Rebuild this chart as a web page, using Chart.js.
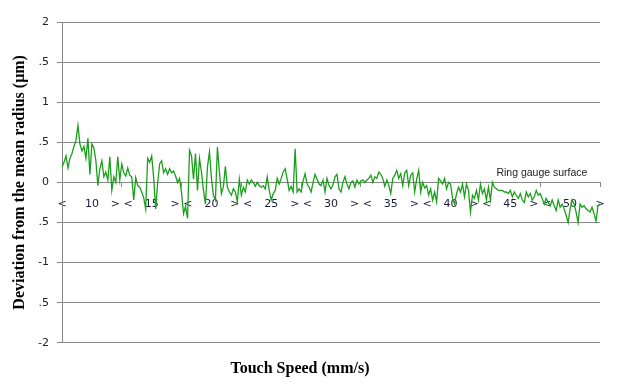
<!DOCTYPE html>
<html>
<head>
<meta charset="utf-8">
<script src="https://cdn.jsdelivr.net/npm/chart.js@4.4.1/dist/chart.umd.min.js"></script>
<style>
  html, body { margin: 0; padding: 0; background: #fff; }
</style>
</head>
<body>
<canvas id="chart" width="628" height="384"></canvas>
<script>
// speed groups shown along the zero line
const speedLabels = ['10', '15', '20', '25', '30', '35', '40', '45', '50'];
const samplesPerGroup = 30;

// y ticks, text as it appears on the original (clipped decimals)
const yTickValues = [-2, -1.5, -1, -0.5, 0, 0.5, 1, 1.5, 2];
const yTickLabels = ['-2', '.5', '-1', '.5', '0', '.5', '1', '.5', '2'];

const annotationText = 'Ring gauge surface';
const annotationAt = [218, 0.11];

// deviation from the mean radius (µm), one sample per index
const deviation = [
  0.19, 0.25, 0.33, 0.18, 0.3, 0.36, 0.45, 0.52, 0.71, 0.48,
  0.39, 0.45, 0.3, 0.55, 0.1, 0.48, 0.43, 0.27, -0.04, 0.17,
  0.27, 0.07, 0.13, 0.03, 0.32, -0.1, 0.07, 0.0, 0.32, 0.03,
  0.23, 0.12, 0.08, 0.18, 0.09, 0.07, -0.22, 0.06, -0.04, -0.06,
  -0.12, -0.19, -0.33, 0.3, 0.25, 0.33, 0.06, -0.33, -0.01, 0.23,
  0.27, 0.12, 0.17, 0.1, 0.17, 0.12, 0.14, 0.08, 0.0, 0.05,
  -0.13, -0.39, -0.3, -0.45, 0.4, 0.33, 0.04, 0.36, -0.1, 0.3,
  0.13, -0.1, -0.27, 0.19, 0.38, 0.05, -0.16, -0.22, 0.44, 0.13,
  -0.14, -0.05, 0.2, -0.06, -0.12, -0.16, -0.08, -0.12, -0.24, 0.04,
  -0.16, -0.06, -0.12, 0.03, -0.02, 0.03, 0.0, -0.05, 0.0, -0.04,
  -0.06, -0.04, -0.08, 0.07, -0.1, -0.22, -0.14, -0.1, 0.05, -0.02,
  0.05, 0.13, 0.17, 0.04, -0.1, -0.05, -0.12, 0.42, -0.12, -0.08,
  -0.12, 0.02, 0.11, -0.02, -0.06, -0.12, 0.0, 0.1, 0.04, -0.02,
  -0.04, 0.03, -0.12, 0.05, -0.04, -0.08, -0.03, 0.07, 0.1, -0.08,
  -0.12, 0.0, 0.07, -0.02, -0.08, 0.0, 0.02, -0.06, 0.03, -0.02,
  0.02, 0.03, 0.0, 0.03, 0.05, 0.09, 0.0, 0.07, 0.05, 0.13,
  0.1, 0.05, -0.05, 0.03, -0.04, -0.14, 0.05, 0.09, 0.15, 0.05,
  0.11, -0.04, 0.12, 0.15, -0.04, 0.09, 0.12, -0.12, 0.04, 0.15,
  -0.12, 0.0, -0.07, -0.04, -0.16, -0.08, -0.22, -0.12, -0.24, 0.05,
  0.02, -0.02, 0.05, -0.08, 0.0, -0.02, -0.2, -0.27, -0.14, -0.06,
  -0.12, -0.02, -0.18, -0.02, -0.1, -0.37, -0.16, -0.2, -0.1, -0.22,
  -0.02, -0.14, -0.08, -0.22, -0.06, -0.22, 0.0, -0.06, -0.08, -0.1,
  -0.1, -0.1, -0.12, -0.12, -0.14, -0.1, -0.18, -0.12, -0.16, -0.2,
  -0.14, -0.22, -0.25, -0.12, -0.18, -0.14, -0.22, -0.18, -0.1, -0.16,
  -0.14, -0.2, -0.27, -0.2, -0.25, -0.29, -0.22, -0.29, -0.35, -0.22,
  -0.31, -0.27, -0.33, -0.41, -0.5, -0.33, -0.22, -0.27, -0.37, -0.5,
  -0.27, -0.31, -0.29, -0.33, -0.35, -0.37, -0.31, -0.39, -0.48, -0.29,
  -0.27
];

const lastIndex = deviation.length - 1;

// tick positions: group boundaries and group centres
const xTickPositions = [];
for (let k = 0; k <= speedLabels.length * 2; k++) xTickPositions.push(k * samplesPerGroup / 2);

function xTickText(value) {
  if (value % samplesPerGroup === 0) {
    if (value === 0) return '<';
    if (value === speedLabels.length * samplesPerGroup) return '>';
    return '> <';
  }
  return speedLabels[Math.floor(value / samplesPerGroup)];
}

const surfaceLabel = {
  id: 'surfaceLabel',
  afterDatasetsDraw(chart) {
    const { ctx, scales: { x, y } } = chart;
    ctx.save();
    ctx.font = '10.5px "Liberation Sans"';
    ctx.fillStyle = '#222';
    ctx.textAlign = 'left';
    ctx.textBaseline = 'middle';
    ctx.fillText(annotationText, x.getPixelForValue(annotationAt[0]), y.getPixelForValue(annotationAt[1]));
    ctx.restore();
  }
};

new Chart(document.getElementById('chart'), {
  type: 'line',
  data: {
    datasets: [{
      label: annotationText,
      data: deviation.map((v, i) => ({ x: i, y: v })),
      borderColor: '#1a9f1a',
      borderWidth: 1.3,
      pointRadius: 0,
      tension: 0,
      fill: false
    }]
  },
  options: {
    responsive: false,
    animation: false,
    layout: { padding: { top: 22, right: 28, bottom: 0, left: 0 } },
    plugins: {
      legend: { display: false },
      tooltip: { enabled: false },
      title: {
        display: true,
        position: 'bottom',
        text: 'Touch Speed (mm/s)',
        color: '#000',
        font: { family: 'Liberation Serif', size: 16, weight: 'bold' },
        padding: { top: 16, bottom: 6 }
      }
    },
    scales: {
      x: {
        type: 'linear',
        position: { y: 0 },
        min: 0,
        max: lastIndex,
        afterBuildTicks: (scale) => {
          scale.ticks = xTickPositions.map((v) => ({ value: v }));
        },
        afterFit: (scale) => { scale.height = 0; },
        ticks: {
          autoSkip: false,
          maxRotation: 0,
          minRotation: 0,
          padding: 11,
          color: '#1c1c3a',
          font: { family: 'DejaVu Sans', size: 11 },
          callback: (value) => xTickText(value)
        },
        grid: {
          drawOnChartArea: false,
          drawTicks: true,
          tickLength: 4,
          color: (ctx) => (ctx.tick && ctx.tick.value % samplesPerGroup === 0) ? '#888' : 'rgba(0,0,0,0)'
        },
        border: { color: '#888' }
      },
      y: {
        min: -2,
        max: 2,
        afterFit: (scale) => { scale.width = 62; },
        afterBuildTicks: (scale) => {
          scale.ticks = yTickValues.map((v) => ({ value: v }));
        },
        ticks: {
          padding: 8,
          color: '#222',
          font: { family: 'DejaVu Sans', size: 11 },
          callback: (value) => yTickLabels[yTickValues.indexOf(value)]
        },
        grid: { color: '#888', tickLength: 5 },
        border: { color: '#888' },
        title: {
          display: true,
          text: 'Deviation from the mean radius (μm)',
          color: '#000',
          font: { family: 'Liberation Serif', size: 16, weight: 'bold' },
          padding: { top: 10, bottom: 0 }
        }
      }
    }
  },
  plugins: [surfaceLabel]
});
</script>
</body>
</html>
